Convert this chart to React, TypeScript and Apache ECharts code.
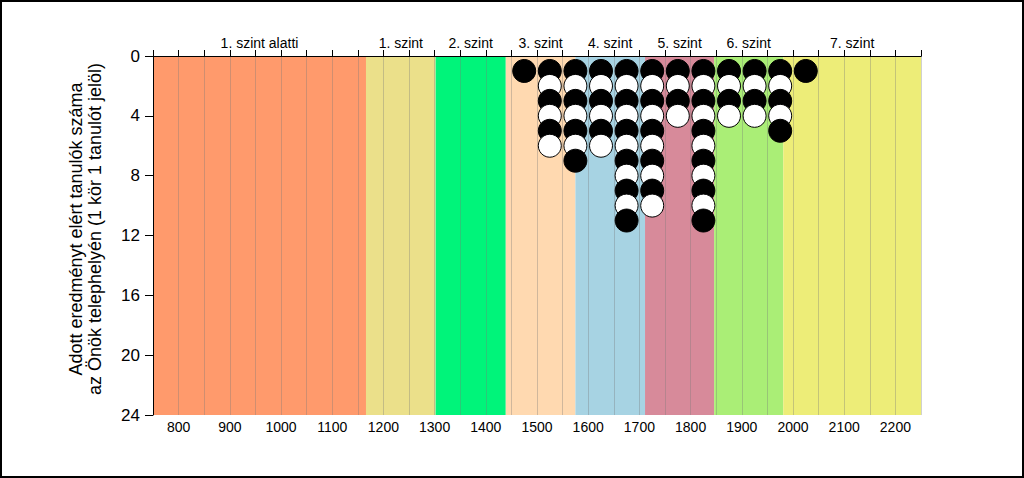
import React, { useEffect, useRef } from "react";
import * as echarts from "echarts";

// Level bands (score boundaries) and their names / colours
const bandEdges = [750, 1166, 1302, 1439, 1575, 1711, 1846, 1981, 2250];
const bandNames = [
  "1. szint alatti",
  "1. szint",
  "2. szint",
  "3. szint",
  "4. szint",
  "5. szint",
  "6. szint",
  "7. szint",
];
const bandColors = [
  "#FF9A6C",
  "#EBE08A",
  "#00F47A",
  "#FFD9B0",
  "#A7D3E3",
  "#D78A9A",
  "#AAEE76",
  "#EDED78",
];

// Score bin centres and number of students in each bin
const binCenters = [1475, 1525, 1575, 1625, 1675, 1725, 1775, 1825, 1875, 1925, 1975, 2025];
const studentCounts = [1, 6, 7, 6, 11, 10, 4, 11, 4, 4, 5, 1];

// Axis settings
const xMin = 750;
const xMax = 2250;
const yMax = 24;
const yTickStep = 4;
const xTickStep = 50;

const yTitleLines = [
  "Adott eredményt elért tanulók száma",
  "az Önök telephelyén (1 kör 1 tanulót jelöl)",
];

const FONT = "'Liberation Sans', Arial, sans-serif";

export default function App() {
  const ref = useRef<HTMLDivElement>(null);

  useEffect(() => {
    document.body.style.margin = "0";
    if (!ref.current) return;
    const chart = echarts.init(ref.current, null, { renderer: "svg" });

    const bandData = bandNames.map((n, i) => [bandEdges[i], bandEdges[i + 1], n, bandColors[i]]);

    const points: any[] = [];
    binCenters.forEach((c, i) => {
      for (let k = 1; k <= studentCounts[i]; k++) {
        points.push({
          value: [c, k],
          itemStyle: { color: k % 2 === 1 ? "#000000" : "#FFFFFF" },
        });
      }
    });

    const option: any = {
      animation: false,
      textStyle: { fontFamily: FONT },
      grid: { left: 153, top: 56, width: 768, height: 359, containLabel: false },
      xAxis: [
        {
          type: "value",
          position: "bottom",
          min: xMin,
          max: xMax,
          interval: xTickStep,
          z: 3,
          axisLine: { show: true, lineStyle: { color: "#000", width: 1 } },
          axisTick: { show: true, inside: true, length: 4, lineStyle: { color: "#000" } },
          axisLabel: {
            color: "#000",
            fontSize: 14,
            fontFamily: FONT,
            margin: 5,
            formatter: (v: number) => (v % 100 === 0 && v > xMin && v < xMax ? String(v) : ""),
          },
          splitLine: { show: true, lineStyle: { color: "rgba(120,120,120,0.35)", width: 1 } },
        },
        {
          type: "value",
          position: "top",
          min: xMin,
          max: xMax,
          interval: xTickStep,
          z: 3,
          axisLine: { show: true, lineStyle: { color: "#000", width: 1 } },
          axisTick: { show: true, inside: false, length: 6, lineStyle: { color: "#000" } },
          axisLabel: { show: false },
          splitLine: { show: false },
        },
      ],
      yAxis: {
        type: "value",
        inverse: true,
        min: 0,
        max: yMax,
        interval: yTickStep,
        z: 3,
        axisLine: { show: true, lineStyle: { color: "#000", width: 1 } },
        axisTick: { show: true, inside: false, length: 8, lineStyle: { color: "#000" } },
        axisLabel: { color: "#000", fontSize: 17, fontFamily: FONT, margin: 13 },
        splitLine: { show: false },
      },
      series: [
        {
          type: "custom",
          z: 1,
          xAxisIndex: 0,
          yAxisIndex: 0,
          silent: true,
          clip: false,
          data: bandData,
          encode: { x: [0, 1] },
          renderItem: (params: any, api: any) => {
            const p0 = api.coord([api.value(0), 0]);
            const p1 = api.coord([api.value(1), yMax]);
            const idx = params.dataIndex;
            return {
              type: "group",
              children: [
                {
                  type: "rect",
                  shape: { x: p0[0], y: p0[1], width: p1[0] - p0[0], height: p1[1] - p0[1] },
                  style: { fill: bandColors[idx] },
                },
                {
                  type: "text",
                  x: (p0[0] + p1[0]) / 2,
                  y: p0[1] - 6,
                  style: {
                    text: bandNames[idx],
                    textAlign: "center",
                    textVerticalAlign: "bottom",
                    fontSize: 14,
                    fontFamily: FONT,
                    fill: "#000",
                  },
                },
              ],
            };
          },
        },
        {
          type: "scatter",
          z: 5,
          xAxisIndex: 0,
          yAxisIndex: 0,
          symbol: "circle",
          symbolSize: 23,
          itemStyle: { borderColor: "#000", borderWidth: 1, opacity: 1 },
          data: points,
        },
      ],
      graphic: [
        {
          type: "rect",
          shape: { x: 1, y: 1, width: 1022, height: 476 },
          style: { fill: "none", stroke: "#000", lineWidth: 2 },
          silent: true,
        },
        {
          type: "text",
          x: 85.5,
          y: 229,
          rotation: Math.PI / 2,
          style: {
            text: yTitleLines.join("\n"),
            textAlign: "center",
            textVerticalAlign: "middle",
            fontSize: 18,
            lineHeight: 19,
            fontFamily: FONT,
            fill: "#000",
          },
        },
      ],
    };

    chart.setOption(option);
    return () => chart.dispose();
  }, []);

  return <div ref={ref} style={{ width: 1024, height: 478 }} />;
}
